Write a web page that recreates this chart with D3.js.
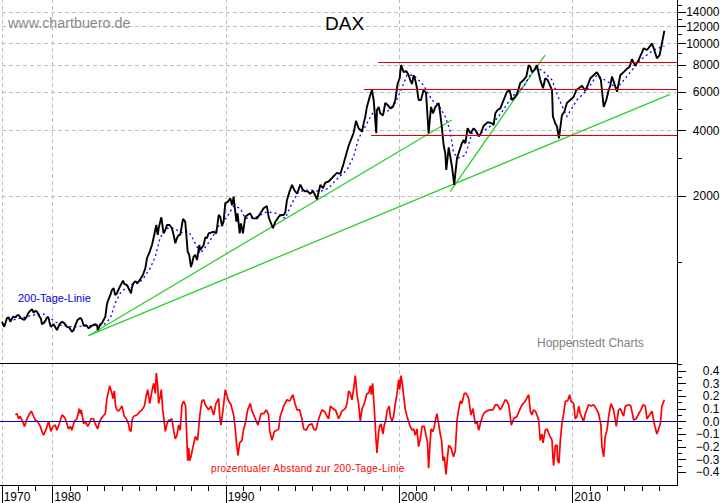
<!DOCTYPE html>
<meta charset="utf-8">
<style>
body { margin: 0; background: #fff; }
svg { display: block; }
text { font-family: "Liberation Sans", Arial, sans-serif; }
.grid line { stroke: #c0c0c0; stroke-dasharray: 4 3; shape-rendering: crispEdges; }
.grid path, .noline path { display: none; }
.ax line, .ax path { stroke: #000; shape-rendering: crispEdges; }
.ax text { font-size: 12px; fill: #000; }
</style>
<body>
<script src="https://cdn.jsdelivr.net/npm/d3@7"></script>
<script>
// DAX, black line: turning points
var priceYears = [1977.10,1977.23,1977.38,1977.58,1977.73,1977.96,1978.15,1978.38,1978.63,1978.83,1979.02,1979.21,1979.5,1979.79,1979.92,1980.27,1980.56,1980.85,1981.13,1981.33,1981.62,1981.81,1982.1,1982.48,1982.62,1982.77,1983.06,1983.15,1983.35,1983.54,1983.73,1983.92,1984.08,1984.31,1984.54,1984.69,1985.08,1985.37,1985.46,1985.75,1986,1986.08,1986.29,1986.42,1986.62,1986.9,1987.1,1987.29,1987.54,1987.67,1987.81,1988,1988.15,1988.35,1988.48,1988.73,1989.02,1989.31,1989.6,1989.79,1989.98,1990.27,1990.46,1990.62,1990.81,1991,1991.13,1991.42,1991.81,1992.19,1992.38,1992.58,1992.73,1993.06,1993.35,1993.54,1993.83,1994.12,1994.31,1994.6,1994.88,1995.17,1995.27,1995.46,1995.75,1995.94,1996.42,1996.62,1996.81,1997.1,1997.38,1997.52,1997.67,1997.96,1998.15,1998.44,1998.54,1998.69,1998.73,1998.92,1999.21,1999.5,1999.79,1999.92,2000.12,2000.27,2000.56,2000.75,2000.94,2001.13,2001.42,2001.71,2001.85,2002.1,2002.29,2002.48,2002.58,2002.73,2002.87,2003.06,2003.19,2003.35,2003.63,2003.83,2003.96,2004.31,2004.6,2004.88,2005.37,2005.56,2005.85,2006.23,2006.52,2006.81,2007.19,2007.48,2007.67,2007.96,2008.15,2008.44,2008.83,2008.88,2009.12,2009.23,2009.4,2009.69,2010.08,2010.37,2010.75,2011.04,2011.42,2011.65,2011.81,2012.1,2012.29,2012.58,2012.77,2013.15,2013.44,2013.63,2014.12,2014.6,2014.88,2015.17,2015.31];
var priceValues = [531,503,551,531,560,566,556,541,584,606,595,570,523,551,503,486,531,503,477,512,554,509,495,517,486,517,560,636,704,756,717,775,819,781,717,799,832,934,1037,1192,1473,1326,1598,1348,1473,1423,1215,1326,1570,1525,1113,945,1054,1018,1192,1192,1348,1372,1638,1455,1854,1951,1985,1525,1348,1348,1605,1665,1580,1756,1797,1525,1423,1605,1638,1918,2248,2047,2255,2100,2047,2010,1933,2248,2304,2330,2552,2525,2822,3408,3880,4420,4088,4302,5119,6118,5507,3880,4955,4785,5335,5040,5507,6520,7950,7390,7150,6520,6800,5507,6118,3880,5119,5119,5335,4088,3408,2631,3339,2724,2248,2987,3486,3486,4088,4088,3750,4184,4302,4785,5040,6010,5507,5860,6800,7950,7390,7950,6800,6930,6118,4630,4160,3670,4680,5335,5700,6230,6075,6930,7390,6800,5119,6118,7060,6010,7150,7650,8460,7900,9500,10000,8550,10000,11440];
// DAX: further readings in between
var priceDetailYears = [1977.15,1977.48,1977.87,1978.06,1978.25,1978.5,1978.73,1978.92,1979.12,1979.35,1979.4,1979.6,1979.69,1979.85,1980.08,1980.42,1980.69,1980.98,1981.23,1981.46,1981.71,1981.96,1982.29,1982.58,1982.87,1983.19,1983.44,1983.63,1983.83,1984.15,1984.4,1984.6,1984.79,1984.92,1985.23,1985.62,1985.88,1986.15,1986.52,1986.77,1987,1987.19,1987.38,1987.9,1988.08,1988.25,1988.54,1988.83,1988.92,1989.15,1989.46,1989.69,1989.88,1990.12,1990.37,1990.69,1990.88,1991.27,1991.56,1992.04,1992.48,1992.87,1993.19,1993.44,1993.69,1993.96,1994.46,1994.73,1995.04,1995.62,1997.87,1998.06,1998.31,1998.83,1999.08,1999.35,1999.65,2000.04,2000.42,2000.65,2000.85,2001.04,2001.27,2001.56,2001.96,2002.38,2002.67,2002.96,2003.25,2003.5,2003.73,2004.12,2004.46,2004.73,2005.12,2005.46,2005.69,2006.04,2006.38,2006.65,2007,2007.35,2007.58,2007.81,2008.31,2008.58,2009.02,2009.54,2009.88,2010.23,2010.56,2010.88,2011.23,2011.52,2011.96,2012.19,2012.42,2012.96,2013.31,2013.83,2014.31,2014.73,2015.04];
var priceDetailValues = [517,556,556,570,547,556,595,584,590,547,517,536,556,523,517,517,523,499,486,541,541,512,509,512,523,656,742,704,749,792,756,765,813,799,871,1110,1326,1440,1397,1473,1326,1281,1326,1075,994,1075,1132,1294,1281,1360,1348,1605,1525,1880,1815,1665,1497,1638,1580,1680,1605,1525,1638,1680,2100,2131,2131,2100,2110,2170,3950,4630,5680,5119,4680,5220,5119,6930,7470,6800,7150,6230,5507,5950,4785,4785,3150,3030,2525,3249,3611,3880,3950,3880,4360,4230,4955,5507,6118,5620,6590,7060,7820,7557,6230,6800,4300,4860,5507,6118,6400,6400,7150,7150,5507,6400,6560,7390,7820,8400,9331,9331,8850];

// 200-Tage-Linie, blue dots
var maYears = [1977.77,1978.92,1979.5,1979.88,1980.46,1981.23,1982.19,1982.96,1983.35,1983.63,1983.92,1984.4,1984.98,1985.27,1985.65,1985.94,1986.23,1986.62,1987,1987.48,1987.87,1988.15,1988.54,1988.92,1989.31,1989.69,1990.08,1990.46,1990.85,1991.13,1991.81,1992.38,1992.96,1993.44,1993.83,1994.21,1994.88,1995.46,1995.94,1996.42,1997,1997.38,1997.67,1998.15,1998.63,1999.31,1999.79,2000.08,2000.46,2000.85,2001.42,2001.9,2002.29,2002.67,2002.96,2003.15,2003.44,2003.83,2004.21,2004.69,2005.37,2005.94,2006.52,2007.19,2007.77,2008.25,2008.83,2009.21,2009.69,2010.27,2010.85,2011.42,2012,2012.58,2013.15,2013.92,2014.69,2015.31];
var maValues = [541,570,576,551,512,503,509,512,551,646,717,781,798,842,934,1054,1294,1423,1423,1360,1372,1258,1090,1192,1326,1497,1605,1797,1756,1580,1605,1693,1665,1580,1854,2100,2131,2100,2170,2390,2631,3030,3670,4302,5040,4860,5335,6010,7150,7150,6440,5507,5220,4630,3950,3150,2987,3075,3880,3880,4230,4860,5700,6340,7650,7557,6800,5620,4630,5507,6118,7150,6710,6230,7060,8400,9331,9730];

// prozentualer Abstand, red line in lower panel
var oscYears = [1977.87,1977.96,1978.06,1978.25,1978.4,1978.54,1978.79,1978.92,1979.15,1979.31,1979.5,1979.79,1979.92,1980.17,1980.27,1980.56,1980.75,1980.94,1981.13,1981.42,1981.56,1981.67,1981.81,1982.04,1982.23,1982.48,1982.62,1982.77,1983.06,1983.15,1983.31,1983.44,1983.58,1983.73,1983.92,1984.15,1984.4,1984.54,1984.69,1985.08,1985.31,1985.5,1985.62,1985.85,1986,1986.13,1986.29,1986.42,1986.52,1986.71,1986.9,1987.1,1987.29,1987.38,1987.58,1987.69,1987.81,1988,1988.25,1988.38,1988.48,1988.73,1989.02,1989.31,1989.6,1989.73,1989.98,1990.17,1990.46,1990.62,1990.71,1990.94,1991.13,1991.42,1991.62,1991.87,1992.19,1992.48,1992.67,1992.96,1993.15,1993.54,1993.88,1994.12,1994.4,1994.65,1994.98,1995.21,1995.56,1995.85,1996.04,1996.33,1996.52,1996.9,1997.1,1997.29,1997.48,1997.67,1997.77,1997.87,1998.15,1998.35,1998.48,1998.58,1998.67,1998.73,1998.83,1998.96,1999.15,1999.31,1999.44,1999.6,1999.79,1999.98,2000.12,2000.27,2000.46,2000.75,2000.94,2001.13,2001.33,2001.56,2001.71,2001.85,2002.04,2002.19,2002.38,2002.54,2002.71,2002.87,2003.15,2003.35,2003.54,2003.77,2004.02,2004.15,2004.4,2004.6,2004.88,2005.27,2005.56,2005.85,2006.13,2006.33,2006.48,2006.81,2007.1,2007.48,2007.67,2007.87,2008.06,2008.15,2008.31,2008.54,2008.83,2008.92,2009.12,2009.23,2009.4,2009.6,2009.85,2010.08,2010.17,2010.37,2010.65,2010.94,2011.23,2011.52,2011.65,2011.81,2012,2012.23,2012.54,2012.77,2012.96,2013.25,2013.54,2013.83,2014.08,2014.31,2014.6,2014.88,2015.08,2015.17,2015.31];
var oscValues = [.05,.06,.02,.01,-.04,.02,.08,.04,0,-.04,-.11,0,-.08,-.03,-.07,.05,.02,-.06,-.07,.02,.1,.09,-.02,-.04,.02,-.02,-.06,.01,.06,.18,.28,.22,.24,.09,.1,.04,-.02,-.08,.04,.08,.12,.25,.14,.3,.38,.14,.25,.04,-.08,.01,.02,-.14,-.03,-.07,.16,.12,-.31,-.28,-.12,-.15,0,.17,.09,.05,.18,-.03,.25,.16,.05,-.16,-.27,-.15,-.02,.14,.05,-.03,.06,.05,-.15,-.07,.04,.17,.21,.09,.02,-.07,-.02,-.07,.09,.04,.12,.09,.02,.1,.24,.17,.36,.14,0,.1,.22,.28,.3,.09,-.13,-.25,-.08,-.02,-.03,.08,.12,0,.14,.33,.36,.2,.04,-.07,-.11,-.2,-.04,-.11,-.37,-.06,-.04,.06,-.1,-.31,-.42,-.19,-.28,.01,.16,.22,.18,.05,-.02,-.07,.06,.09,.13,.09,.17,.13,-.03,.04,.13,.21,.05,.08,.01,-.15,-.17,-.06,-.15,-.35,-.19,-.33,-.02,.16,.21,.14,.02,.12,0,.13,.13,.06,-.03,-.28,-.07,.14,-.04,.1,.04,.13,.01,.06,.13,.02,.08,-.1,-.02,.12,.17];
var oscDetailYears = [1978.15,1978.69,1979.02,1979.4,1979.65,1980.04,1980.4,1980.65,1981.04,1981.27,1981.62,1981.9,1982.13,1982.38,1982.69,1982.92,1983.25,1983.5,1983.65,1983.83,1984.02,1984.27,1984.46,1984.6,1984.88,1985.17,1985.42,1985.56,1985.75,1985.94,1986.08,1986.23,1986.37,1986.62,1986.81,1987,1987.19,1987.48,1987.87,1987.92,1988.12,1988.54,1988.63,1988.83,1989.15,1989.44,1989.65,1989.85,1990.04,1990.31,1990.54,1990.81,1991.04,1991.27,1991.52,1991.77,1992.04,1992.35,1992.54,1992.81,1993.06,1993.35,1993.69,1994,1994.27,1994.5,1994.79,1995.08,1995.37,1995.69,1995.94,1996.19,1996.42,1996.71,1997,1997.19,1997.38,1997.58,1998,1998.25,1998.4,1998.88,1999.08,1999.23,1999.5,1999.69,1999.88,2000.04,2000.2,2000.37,2000.62,2000.85,2001.04,2001.23,2001.46,2001.65,2001.77,2001.96,2002.12,2002.29,2002.46,2002.62,2002.81,2003,2003.25,2003.44,2003.63,2003.88,2004.27,2004.5,2004.73,2005.04,2005.42,2005.69,2006,2006.23,2006.42,2006.62,2006.96,2007.29,2007.58,2007.77,2007.96,2008.25,2008.44,2008.69,2008.88,2009.02,2009.15,2009.31,2009.5,2009.73,2009.92,2010.27,2010.46,2010.75,2011.08,2011.38,2011.71,2011.9,2012.1,2012.38,2012.67,2013.06,2013.38,2013.69,2013.96,2014.21,2014.46,2014.73,2014.98];
var oscDetailValues = [.04,.06,.01,-.08,-.06,-.04,-.02,.04,-.04,0,.06,0,-.02,.02,-.02,.04,.24,.18,.12,.08,.12,.02,-.07,.01,.05,.09,.2,.2,.24,.22,.28,.2,.09,-.02,.01,-.07,-.11,.13,-.21,-.31,-.2,.08,.16,.13,.12,.14,.05,.09,.22,.13,-.04,-.17,-.06,.09,.08,0,.06,.09,-.07,-.08,-.06,.12,.16,.14,.09,-.06,-.03,-.06,.02,.08,.02,.1,.06,.08,.14,.22,.25,.21,.14,.22,.21,-.04,-.1,0,.04,.04,.21,.25,.29,.09,-.03,-.06,-.06,-.14,-.04,-.17,-.23,-.08,.02,-.02,-.15,-.28,-.27,-.21,-.23,.09,.14,.22,.1,0,0,.08,.09,.13,.13,.16,.04,.02,.09,.16,.08,.09,.05,-.1,-.07,-.11,-.28,-.19,-.31,-.15,.06,.16,.16,.04,.06,.06,.12,.1,-.2,-.12,.04,.09,.09,.12,.12,.02,.09,.12,.05,-.02,-.06];

// trend lines [year, price, year, price]
var greenLines = [[1982.09,458,2003.05,4459],[1982.09,458,2015.64,5848],[2002.95,2093,2008.43,8850]];
var redLines = [[1998.79,8170],[1998,6165],[1998.4,3795]];

// tick labels
var priceMajor = [14000,12000,10000,8000,6000,4000,2000];
var priceMinor = [15000,13000,11000,9000,7000,5000,3000,1000];
var oscMajor = [.4,.3,.2,.1,0,-.1,-.2,-.3,-.4];
var oscMinor = [.45,.35,.25,.15,.05,-.05,-.15,-.25,-.35];
var yearMajor = [1977.08,1980,1990,2000,2010];
var yearLabels = ["1970","1980","1990","2000","2010"];
var yearMinor = [1978,1979,1981,1982,1983,1984,1985,1986,1987,1988,1989,1991,1992,1993,1994,1995,1996,1997,1998,1999,2001,2002,2003,2004,2005,2006,2007,2008,2009,2011,2012,2013,2014,2015];

var width = 723, height = 503,
    axisX = 677.5, panelTop = 363.5, axisY = 485.5;

var svg = d3.select("body").append("svg")
    .attr("width", width)
    .attr("height", height);

var x = d3.scaleLinear().domain([1980, 2010]).range([52.3, 572.3]);
var y = d3.scaleLog().domain([1000, 4000]).range([261.7, 130.3]);
var yOsc = d3.scaleLinear().domain([-.4, .4]).range([472, 370.6]);

function merged(a, b, c, e) {
  return d3.zip(a, b).concat(d3.zip(c, e)).sort(function(p, q) { return d3.ascending(p[0], q[0]); });
}

// grid
svg.append("g").attr("class", "grid")
    .attr("transform", "translate(" + axisX + ",0)")
    .call(d3.axisLeft(y).tickValues(priceMajor).tickSize(axisX).tickFormat(""));
svg.append("g").attr("class", "grid")
    .attr("transform", "translate(0," + axisY + ")")
    .call(d3.axisTop(x).tickValues(yearMajor).tickSize(axisY).tickFormat(""));

// trend lines
svg.selectAll(".green").data(greenLines).enter().append("line")
    .attr("x1", function(d) { return x(d[0]); })
    .attr("y1", function(d) { return y(d[1]); })
    .attr("x2", function(d) { return x(d[2]); })
    .attr("y2", function(d) { return y(d[3]); })
    .attr("stroke", "#32cd32")
    .attr("stroke-width", 1.3);

var priceLine = d3.line()
    .x(function(d) { return x(d[0]); })
    .y(function(d) { return y(d[1]); });

svg.append("path")
    .datum(d3.zip(maYears, maValues))
    .attr("d", priceLine)
    .attr("fill", "none")
    .attr("stroke", "#0000ff")
    .attr("stroke-width", 1.3)
    .attr("stroke-dasharray", "2 3");

svg.append("path")
    .datum(merged(priceYears, priceValues, priceDetailYears, priceDetailValues))
    .attr("d", priceLine)
    .attr("fill", "none")
    .attr("stroke", "#000")
    .attr("stroke-width", 1.9)
    .attr("stroke-linejoin", "bevel");

svg.selectAll(".res").data(redLines).enter().append("line")
    .attr("x1", function(d) { return x(d[0]); })
    .attr("x2", axisX)
    .attr("y1", function(d) { return y(d[1]); })
    .attr("y2", function(d) { return y(d[1]); })
    .attr("stroke", "#e00000")
    .attr("stroke-width", 1.2)
    .attr("shape-rendering", "crispEdges");

// lower panel
svg.append("line")
    .attr("x1", 0).attr("x2", axisX)
    .attr("y1", panelTop).attr("y2", panelTop)
    .attr("stroke", "#000").attr("shape-rendering", "crispEdges");

svg.append("path")
    .datum(merged(oscYears, oscValues, oscDetailYears, oscDetailValues))
    .attr("d", d3.line()
        .x(function(d) { return x(d[0]); })
        .y(function(d) { return yOsc(d[1]); }))
    .attr("fill", "none")
    .attr("stroke", "#ff0000")
    .attr("stroke-width", 1.7)
    .attr("stroke-linejoin", "bevel");

svg.append("line")
    .attr("x1", 0).attr("x2", axisX)
    .attr("y1", yOsc(0)).attr("y2", yOsc(0))
    .attr("stroke", "#0000cd")
    .attr("stroke-width", 1.2)
    .attr("shape-rendering", "crispEdges");

// right axes
svg.append("line")
    .attr("x1", axisX).attr("x2", axisX)
    .attr("y1", 0).attr("y2", axisY)
    .attr("stroke", "#000").attr("shape-rendering", "crispEdges");

function rightAxis(scale, values, size, fmt) {
  svg.append("g").attr("class", "ax noline")
      .attr("transform", "translate(" + axisX + ",0)")
      .call(d3.axisRight(scale).tickValues(values).tickSize(size).tickPadding(0).tickFormat(fmt))
      .selectAll("text")
        .attr("text-anchor", "end")
        .attr("x", 42);
}
rightAxis(y, priceMajor, 8, function(d) { return d; });
rightAxis(y, priceMinor, 4, "");
rightAxis(yOsc, oscMajor, 8, d3.format(".1f"));
rightAxis(yOsc, oscMinor, 4, "");

// bottom axis
svg.append("line")
    .attr("x1", 0).attr("x2", axisX)
    .attr("y1", axisY).attr("y2", axisY)
    .attr("stroke", "#000").attr("shape-rendering", "crispEdges");

svg.append("g").attr("class", "ax noline")
    .attr("transform", "translate(0," + axisY + ")")
    .call(d3.axisBottom(x).tickValues(yearMinor).tickSize(5).tickFormat(""));

svg.append("g").attr("class", "ax noline")
    .attr("transform", "translate(0," + axisY + ")")
    .call(d3.axisBottom(x).tickValues(yearMajor).tickSize(18)
        .tickFormat(function(d, i) { return yearLabels[i]; }))
    .selectAll("text")
      .attr("text-anchor", "start")
      .attr("x", 1.5)
      .attr("y", 15.5)
      .attr("dy", 0);

// texts
function label(str, px, py, size, color, spacing) {
  svg.append("text")
      .attr("x", px).attr("y", py)
      .style("font-size", size + "px")
      .style("letter-spacing", (spacing || 0) + "px")
      .attr("fill", color)
      .text(str);
}
label("www.chartbuero.de", 8, 28, 14.3, "#8a8a8a");
label("DAX", 325, 30, 19, "#000");
label("200-Tage-Linie", 18, 302, 11, "#0000e0");
label("Hoppenstedt Charts", 537, 347, 12, "#808080");
label("prozentualer Abstand zur 200-Tage-Linie", 211, 472, 10, "#ff0000", .35);
</script>
</body>
